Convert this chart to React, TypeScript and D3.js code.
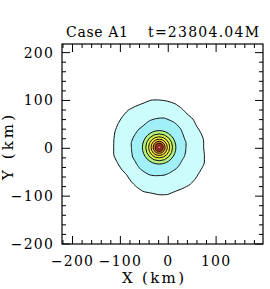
import * as d3 from "d3";
import React, { useEffect, useRef } from "react";

// frame limits (km)
const xDomain = [-222, 198];
const yDomain = [-200, 218];
const xTickLabels = [-200, -100, 0, 100];
const yTickLabels = [-200, -100, 0, 100, 200];

// storm centre (km)
const center = [-19, 2];

// outer contours: radius (km) every 10 deg, counter-clockwise from east
const outerRadii = [
  93, 94, 92, 90, 92, 91, 94, 97, 98, 99, 100, 98, 99, 101, 100, 99, 98, 96,
  95, 96, 93, 91, 89, 92, 95, 98, 97, 99, 100, 98, 99, 101, 100, 99, 100, 96,
];
const secondRadii = [
  56, 57, 56, 57, 59, 60, 61, 61, 62, 61, 60, 59, 57, 56, 57, 57, 58, 59,
  58, 58, 59, 58, 59, 60, 60, 61, 60, 59, 59, 58, 57, 57, 56, 55, 56, 56,
];
// inner rings: nearly round, radius (km)
const innerRadii = [35, 28, 22, 17, 12.5, 8.5, 3];

const outerColors = ["#ccfcfc", "#a2f0f7"];
const innerColors = ["#b2f080", "#d6f250", "#f4f03c", "#f6cc3c", "#e08a30", "#90301c", "#ff7070"];

export default function App() {
  const ref = useRef(null);

  useEffect(() => {
    const width = 270;
    const height = 289;
    const box = { left: 62, right: 263, top: 44, bottom: 244 };

    const root = d3.select(ref.current);
    root.selectAll("*").remove();
    const svg = root
      .append("svg")
      .attr("width", width)
      .attr("height", height)
      .style("position", "absolute")
      .style("left", "0px")
      .style("top", "0px")
      .style("background", "#fff");

    const x = d3.scaleLinear().domain(xDomain).range([box.left, box.right]);
    const y = d3.scaleLinear().domain(yDomain).range([box.bottom, box.top]);

    const contour = d3
      .line()
      .x((d) => x(d[0]))
      .y((d) => y(d[1]))
      .curve(d3.curveCardinalClosed.tension(0.4));

    const ring = (radii) =>
      radii.map((r, i) => {
        const a = (i / radii.length) * 2 * Math.PI;
        return [center[0] + r * Math.cos(a), center[1] + r * Math.sin(a)];
      });

    const g = svg.append("g");
    [outerRadii, secondRadii].forEach((radii, i) => {
      g.append("path")
        .attr("d", contour(ring(radii)))
        .attr("fill", outerColors[i])
        .attr("stroke", "#111")
        .attr("stroke-width", 1);
    });

    const k = x(1) - x(0);
    innerRadii.forEach((r, i) => {
      g.append("circle")
        .attr("cx", x(center[0]))
        .attr("cy", y(center[1]))
        .attr("r", r * k)
        .attr("fill", innerColors[i])
        .attr("stroke", i >= 5 ? "#331010" : "#111")
        .attr("stroke-width", i === 6 ? 0.6 : 1);
    });

    // frame
    svg
      .append("rect")
      .attr("x", box.left)
      .attr("y", box.top)
      .attr("width", box.right - box.left)
      .attr("height", box.bottom - box.top)
      .attr("fill", "none")
      .attr("stroke", "#000")
      .attr("stroke-width", 1.2);

    // ticks on all sides, pointing in
    const minorX = d3.range(-220, 199, 20);
    const minorY = d3.range(-200, 219, 20);
    const tickLen = (v) => (v % 100 === 0 ? 8 : 4);
    const ticks = svg.append("g").attr("stroke", "#000").attr("stroke-width", 1);
    minorX.forEach((v) => {
      ticks.append("line").attr("x1", x(v)).attr("x2", x(v)).attr("y1", box.bottom).attr("y2", box.bottom - tickLen(v));
      ticks.append("line").attr("x1", x(v)).attr("x2", x(v)).attr("y1", box.top).attr("y2", box.top + tickLen(v));
    });
    minorY.forEach((v) => {
      ticks.append("line").attr("y1", y(v)).attr("y2", y(v)).attr("x1", box.left).attr("x2", box.left + tickLen(v));
      ticks.append("line").attr("y1", y(v)).attr("y2", y(v)).attr("x1", box.right).attr("x2", box.right - tickLen(v));
    });

    const font = "DejaVu Serif";
    const fmt = d3.format("d");

    svg
      .append("g")
      .selectAll("text")
      .data(xTickLabels)
      .enter()
      .append("text")
      .attr("x", (d) => x(d))
      .attr("y", 266)
      .attr("text-anchor", "middle")
      .attr("font-family", font)
      .attr("font-size", 14)
      .attr("letter-spacing", 1.2)
      .text((d) => fmt(d));

    svg
      .append("g")
      .selectAll("text")
      .data(yTickLabels)
      .enter()
      .append("text")
      .attr("x", 54)
      .attr("y", (d) => y(d) + 5)
      .attr("text-anchor", "end")
      .attr("font-family", font)
      .attr("font-size", 14)
      .attr("letter-spacing", 1.2)
      .text((d) => fmt(d));

    svg
      .append("text")
      .attr("x", 122)
      .attr("y", 283)
      .attr("font-family", font)
      .attr("font-size", 15)
      .attr("textLength", 62)
      .text("X (km)");

    svg
      .append("text")
      .attr("transform", "translate(13,180) rotate(-90)")
      .attr("font-family", font)
      .attr("font-size", 15)
      .attr("textLength", 65)
      .text("Y (km)");

    svg
      .append("text")
      .attr("x", 66)
      .attr("y", 37)
      .attr("font-family", font)
      .attr("font-size", 14)
      .attr("textLength", 62)
      .text("Case A1");

    svg
      .append("text")
      .attr("x", 148)
      .attr("y", 37)
      .attr("font-family", font)
      .attr("font-size", 14)
      .attr("textLength", 111)
      .text("t=23804.04M");
  }, []);

  return <div ref={ref}></div>;
}
